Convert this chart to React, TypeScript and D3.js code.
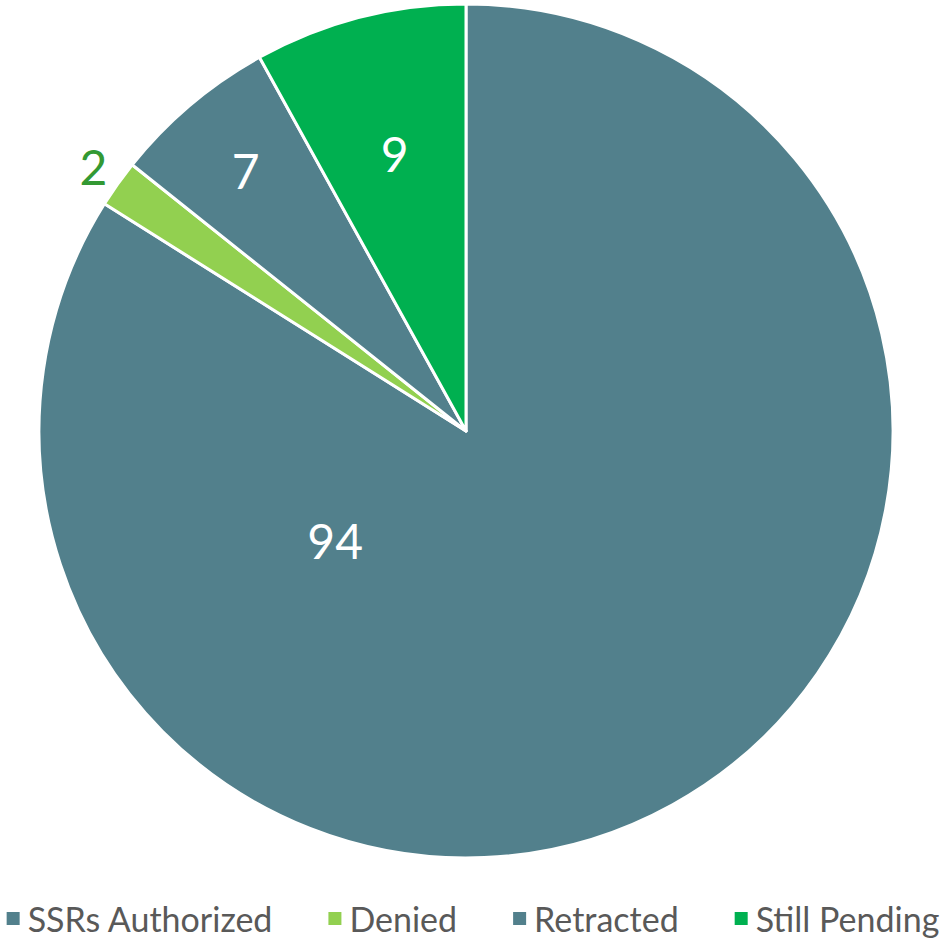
import React, { useEffect, useRef } from "react";
import * as d3 from "d3";

const categories = ["SSRs Authorized", "Denied", "Retracted", "Still Pending"];
const values = [94, 2, 7, 9];
const colors = ["#52808C", "#92D050", "#52808C", "#00B050"];
const labelColors = ["#FFFFFF", "#339933", "#FFFFFF", "#FFFFFF"];
// label placement: angle override (deg, null = slice middle) and radius fraction
const labelAngles: (number | null)[] = [230, null, null, null];
const labelRadii = [0.4, 1.07, 0.8, 0.67];

const W = 946;
const H = 939;

export default function App() {
  const ref = useRef<SVGSVGElement>(null);
  useEffect(() => {
    const svg = d3.select(ref.current);
    svg.selectAll("*").remove();
    const cx = 466, cy = 431, r = 427;
    const pie = d3.pie<number>().sort(null).value((d) => d);
    const arcs = pie(values);
    const arc = d3.arc<d3.PieArcDatum<number>>().innerRadius(0).outerRadius(r);
    const g = svg.append("g").attr("transform", `translate(${cx},${cy})`);
    g.selectAll("path")
      .data(arcs)
      .join("path")
      .attr("d", arc as any)
      .attr("fill", (_, i) => colors[i])
      .attr("stroke", "#fff")
      .attr("stroke-width", 3)
      .attr("stroke-linejoin", "round");
    g.selectAll("text.lbl")
      .data(arcs)
      .join("text")
      .attr("class", "lbl")
      .each(function (d, i) {
        const a = labelAngles[i] != null ? (labelAngles[i]! * Math.PI) / 180 : (d.startAngle + d.endAngle) / 2;
        const rr = labelRadii[i] * r;
        d3.select(this)
          .attr("x", Math.sin(a) * rr)
          .attr("y", -Math.cos(a) * rr);
      })
      .attr("text-anchor", "middle")
      .attr("dominant-baseline", "central")
      .attr("font-family", "Lato, 'Open Sans', sans-serif")
      .attr("font-size", 48)
      .attr("fill", (_, i) => labelColors[i])
      .text((d) => String(d.data));

    // legend
    const lg = svg.append("g").attr("font-family", "Lato, 'Open Sans', sans-serif").attr("font-size", 34).attr("fill", "#595959");
    const sq = 13, gapText = 8, gapItem = 56;
    let x = 0;
    categories.forEach((c, i) => {
      const it = lg.append("g");
      it.append("rect").attr("x", x).attr("y", 912).attr("width", sq).attr("height", sq).attr("fill", colors[i]);
      const t = it.append("text").attr("x", x + sq + gapText).attr("y", 932).text(c);
      const w = (t.node() as SVGTextElement).getComputedTextLength();
      x += sq + gapText + w + gapItem;
    });
    const total = x - gapItem;
    lg.attr("transform", `translate(${(W - total) / 2},0)`);
  }, []);
  return (
    <svg ref={ref} width={W} height={H} style={{ position: "absolute", left: 0, top: 0, background: "#fff" }} />
  );
}
